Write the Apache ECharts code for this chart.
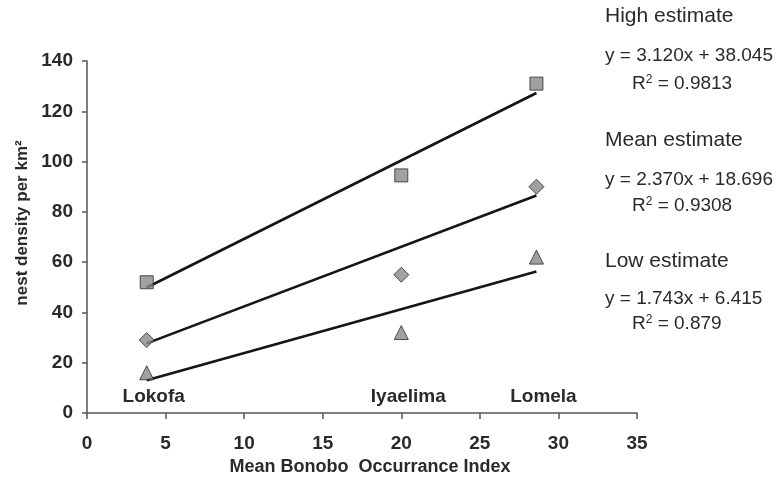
<!DOCTYPE html>
<html>
<head>
<meta charset="utf-8">
<script src="https://cdn.jsdelivr.net/npm/echarts@6/dist/echarts.min.js"></script>
<style>
html,body{margin:0;padding:0;background:#fff;}
#chart{width:779px;height:484px;}
</style>
</head>
<body>
<div id="chart"></div>
<script>
// ---- data ----
const siteNames = ['Lokofa', 'Iyaelima', 'Lomela'];
const siteX = [3.8, 20, 28.6];
const highValues = [52, 94.5, 131];
const meanValues = [29, 55, 90];
const lowValues = [16, 32, 62];
const highFit = [3.120, 38.045];
const meanFit = [2.370, 18.696];
const lowFit = [1.743, 6.415];
const siteLabelY = 6.5;
const legendTitles = ['High estimate', 'Mean estimate', 'Low estimate'];
const equations = ['y = 3.120x + 38.045', 'y = 2.370x + 18.696', 'y = 1.743x + 6.415'];
const rSquaredValues = ['0.9813', '0.9308', '0.879'];

const FONT = 'Arial, "Liberation Sans", sans-serif';
const markerStyle = { color: '#8a8a8a', borderColor: '#2b2b2b', borderWidth: 1 };

function pts(vals) { return siteX.map((x, i) => [x, vals[i]]); }
function fitLine(fit) {
  const x0 = Math.min(...siteX), x1 = Math.max(...siteX);
  return [[x0, fit[0] * x0 + fit[1]], [x1, fit[0] * x1 + fit[1]]];
}
function lineSeries(fit) {
  return {
    type: 'line', data: fitLine(fit), symbol: 'none', silent: true,
    lineStyle: { color: '#151515', width: 2.6 }, z: 2
  };
}
function scatterSeries(vals, symbol, size) {
  return {
    type: 'scatter', data: pts(vals), symbol: symbol, symbolSize: size,
    itemStyle: markerStyle, z: 3
  };
}

const textBlocks = [];
const titleY = [17, 141, 262];
const eqY = [57, 181, 300];
const rY = [84, 206, 324];
for (let i = 0; i < 3; i++) {
  textBlocks.push({ type: 'text', left: 605, top: titleY[i] - 11,
    style: { text: legendTitles[i], font: '21px ' + FONT, fill: '#2a2a2a' } });
  textBlocks.push({ type: 'text', left: 605, top: eqY[i] - 11,
    style: { text: equations[i], font: '19px ' + FONT, fill: '#2a2a2a' } });
  textBlocks.push({ type: 'text', left: 632, top: rY[i] - 10,
    style: {
      text: 'R{sup|2} = ' + rSquaredValues[i], font: '19px ' + FONT, fill: '#2a2a2a',
      rich: { sup: { fontSize: 12, fontFamily: FONT, fill: '#2a2a2a', verticalAlign: 'top', padding: [0, 0, 8, 0] } }
    } });
}

const chart = echarts.init(document.getElementById('chart'), null, { renderer: 'canvas' });
chart.setOption({
  animation: false,
  backgroundColor: '#fff',
  grid: { left: 87, right: 142, top: 61, bottom: 71, containLabel: false },
  xAxis: {
    type: 'value', min: 0, max: 35, interval: 5,
    name: 'Mean Bonobo  Occurrance Index', nameLocation: 'middle', nameGap: 45,
    nameTextStyle: { fontFamily: FONT, fontWeight: 'bold', fontSize: 18, color: '#2a2a2a', padding: [0, 0, 0, 16] },
    axisLine: { show: true, lineStyle: { color: '#555', width: 1.5 } },
    axisTick: { show: true, inside: false, length: 6, lineStyle: { color: '#555', width: 1.5 } },
    axisLabel: { margin: 21, fontFamily: FONT, fontWeight: 'bold', fontSize: 19, color: '#2a2a2a' },
    splitLine: { show: false }
  },
  yAxis: {
    type: 'value', min: 0, max: 140, interval: 20,
    name: 'nest density per km\u00B2', nameLocation: 'middle', nameGap: 48,
    nameTextStyle: { fontFamily: FONT, fontWeight: 'bold', fontSize: 17, color: '#2a2a2a', padding: [0, 0, 0, 28] },
    axisLine: { show: true, lineStyle: { color: '#555', width: 1.5 } },
    axisTick: { show: true, inside: false, length: 5, lineStyle: { color: '#555', width: 1.5 } },
    axisLabel: { margin: 14, fontFamily: FONT, fontWeight: 'bold', fontSize: 19, color: '#2a2a2a' },
    splitLine: { show: false }
  },
  series: [
    lineSeries(highFit), lineSeries(meanFit), lineSeries(lowFit),
    scatterSeries(highValues, 'rect', 13),
    scatterSeries(meanValues, 'diamond', 15),
    scatterSeries(lowValues, 'triangle', 14),
    {
      type: 'scatter', symbolSize: 1, silent: true,
      itemStyle: { opacity: 0 },
      data: siteX.map((x, i) => ({ value: [x, siteLabelY], name: siteNames[i] })),
      label: {
        show: true, position: 'inside', offset: [7, 0], opacity: 1,
        formatter: p => p.name,
        fontFamily: FONT, fontWeight: 'bold', fontSize: 19, color: '#2a2a2a'
      }
    }
  ],
  graphic: textBlocks
});
</script>
</body>
</html>
